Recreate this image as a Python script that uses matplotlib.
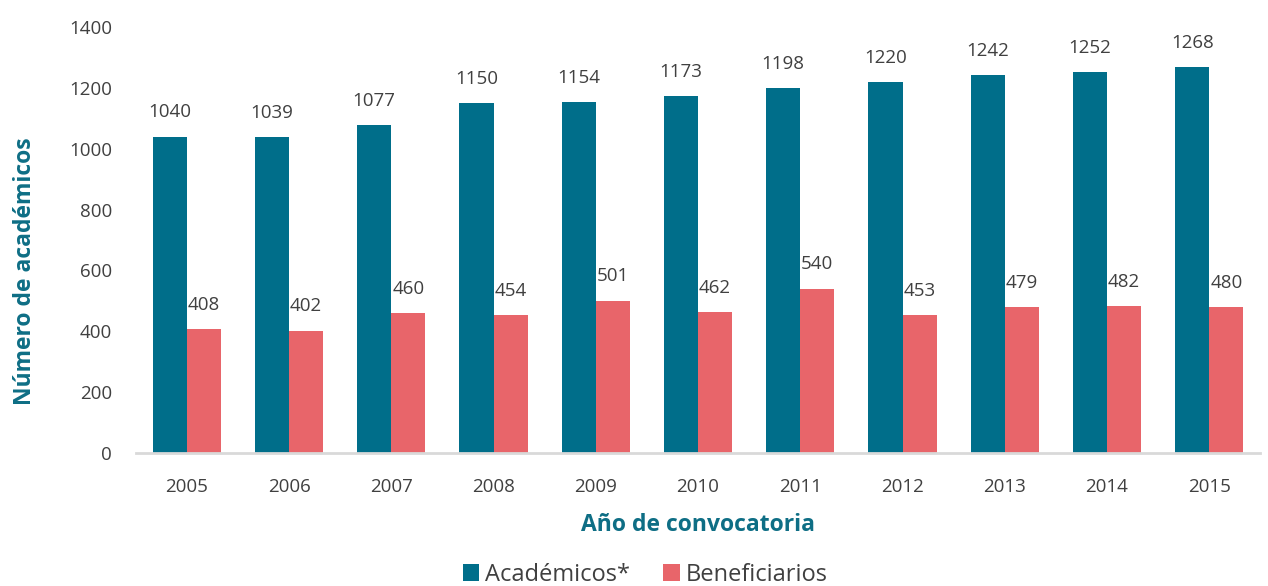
import matplotlib.pyplot as plt
import numpy as np

plt.rcParams['font.family'] = ['Open Sans', 'DejaVu Sans']

years = ['2005', '2006', '2007', '2008', '2009', '2010', '2011', '2012', '2013', '2014', '2015']
academicos = [1040, 1039, 1077, 1150, 1154, 1173, 1198, 1220, 1242, 1252, 1268]
beneficiarios = [408, 402, 460, 454, 501, 462, 540, 453, 479, 482, 480]

teal = '#006E8A'
salmon = '#E8656A'
gray = '#404040'

fig = plt.figure(figsize=(12.68, 5.86), dpi=100)
ax = fig.add_axes([0.107, 0.227, 0.887, 0.727])

x = np.arange(len(years))
w = 0.333
b1 = ax.bar(x - w / 2, academicos, w, color=teal, label='Académicos*')
b2 = ax.bar(x + w / 2, beneficiarios, w, color=salmon, label='Beneficiarios')

# etiquetas de valores
for rect, v in zip(b1, academicos):
    ax.text(rect.get_x() + rect.get_width() / 2, v + 50, str(v),
            ha='center', va='bottom', fontsize=13.5, color=gray)
for rect, v in zip(b2, beneficiarios):
    ax.text(rect.get_x() + rect.get_width() / 2, v + 50, str(v),
            ha='center', va='bottom', fontsize=13.5, color=gray)

ax.set_xlim(-0.5, len(years) - 0.5)
ax.set_ylim(0, 1400)
ax.set_yticks(range(0, 1401, 200))
ax.set_xticks(x)
ax.set_xticklabels(years)
ax.tick_params(axis='both', length=0, labelsize=13.5, labelcolor=gray)
ax.tick_params(axis='x', pad=18)
ax.tick_params(axis='y', pad=17)

for s in ['top', 'right', 'left']:
    ax.spines[s].set_visible(False)
ax.spines['bottom'].set_color('#D9D9D9')
ax.spines['bottom'].set_linewidth(2)

ax.set_xlabel('Año de convocatoria', fontsize=16.5, fontweight='bold', color='#0E6E85', labelpad=12)
ax.set_ylabel('Número de académicos', fontsize=16.5, fontweight='bold', color='#0E6E85')
ax.yaxis.set_label_coords(-0.088, 0.427)

fig.legend(handles=[b1, b2], loc='lower center', bbox_to_anchor=(0.509, -0.038), ncol=2,
           frameon=False, fontsize=17, handlelength=0.7, handleheight=0.7,
           handletextpad=0.25, columnspacing=1.4, labelcolor=gray)

plt.savefig('out.png', dpi=100)
